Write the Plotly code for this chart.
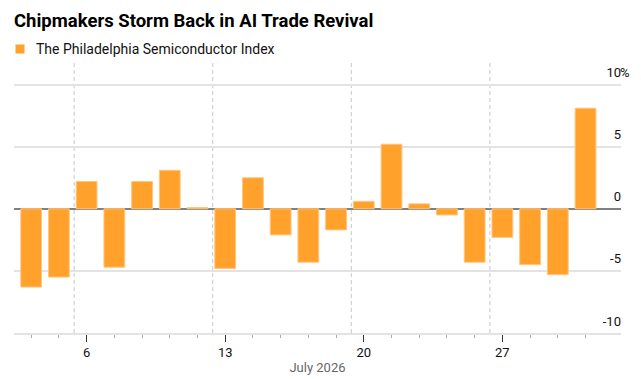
import plotly.graph_objects as go

# ---- data ----
TITLE = "Chipmakers Storm Back in AI Trade Revival"
SERIES_NAME = "The Philadelphia Semiconductor Index"
dates = ["2026-07-01", "2026-07-02",
         "2026-07-06", "2026-07-07", "2026-07-08", "2026-07-09", "2026-07-10",
         "2026-07-13", "2026-07-14", "2026-07-15", "2026-07-16", "2026-07-17",
         "2026-07-20", "2026-07-21", "2026-07-22", "2026-07-23", "2026-07-24",
         "2026-07-27", "2026-07-28", "2026-07-29", "2026-07-30"]
pct_change = [-6.3, -5.5,
              2.2, -4.7, 2.2, 3.1, 0.1,
              -4.8, 2.5, -2.1, -4.3, -1.7,
              0.6, 5.2, 0.4, -0.5, -4.3,
              -2.3, -4.5, -5.3, 8.1]
x_tick_dates = ["2026-07-06", "2026-07-13", "2026-07-20", "2026-07-27"]
x_tick_labels = ["6", "13", "20", "27"]
y_tick_vals = [-10, -5, 0, 5, 10]
y_tick_labels = ["-10", "-5", "0", "5", "10"]
x_axis_title = "July 2026"

# ---- styles ----
ORANGE = "#FFA12B"
FONT = "Roboto"

idx = list(range(len(dates)))
tick_idx = [dates.index(d) for d in x_tick_dates]

fig = go.Figure()
fig.add_trace(go.Bar(
    x=idx, y=pct_change, width=0.75, name=SERIES_NAME,
    marker=dict(color=ORANGE, line=dict(color="#FFC680", width=1)),
    showlegend=False, hovertext=dates,
))

# week separators (dashed) between Friday and Monday
shapes = []
for ti in tick_idx:
    shapes.append(dict(type="line", xref="x", yref="paper", x0=ti - 0.45, x1=ti - 0.45, y0=0, y1=1,
                       line=dict(color="#c8c8c8", width=1, dash="4px,3px"), layer="below"))
# legend swatch
shapes.append(dict(type="rect", xref="paper", yref="paper",
                   x0=(15.5 - 14) / 607, x1=(24.5 - 14) / 607,
                   y0=1 + (63 - 53.5) / 270, y1=1 + (63 - 44.5) / 270,
                   fillcolor=ORANGE, line=dict(width=0)))

annotations = [
    dict(text=SERIES_NAME, xref="paper", yref="paper", x=(33.5 - 14) / 607, y=1 + (63 - 49) / 270,
         xanchor="left", yanchor="middle", showarrow=False, font=dict(family=FONT, size=14, color="#111")),
    dict(text="%", xref="paper", yref="y", x=1, y=10, xanchor="left", yanchor="middle",
         xshift=-3, yshift=12, showarrow=False, font=dict(family=FONT, size=13, color="#111")),
]

fig.update_layout(
    width=641, height=379,
    margin=dict(l=14, r=20, t=63, b=46),
    plot_bgcolor="white", paper_bgcolor="white",
    font=dict(family=FONT, size=13, color="#111"),
    title=dict(text="<b>" + TITLE + "</b>", x=14 / 641, xanchor="left", xref="container",
               y=1 - 21 / 379, yanchor="middle", yref="container",
               font=dict(family=FONT, size=18.5, color="#000")),
    shapes=shapes, annotations=annotations,
    showlegend=False,
    xaxis=dict(
        range=[-0.62, len(dates) + 0.28], showgrid=False, zeroline=False,
        showline=True, linecolor="#e3e3e3", linewidth=1.5,
        tickmode="array", tickvals=tick_idx, ticktext=x_tick_labels,
        ticks="outside", ticklen=7, tickwidth=1, tickcolor="#333",
        tickfont=dict(family=FONT, size=13, color="#111"),
        minor=dict(tickmode="array", tickvals=idx, ticks="outside", ticklen=3, tickwidth=1, tickcolor="#aaa"),
        title=dict(text=x_axis_title, font=dict(family=FONT, size=13, color="#666"), standoff=4),
        automargin=False, fixedrange=True,
    ),
    yaxis=dict(
        range=[-10, 11.74], side="right", ticklabelposition="inside",
        tickmode="array", tickvals=y_tick_vals, ticktext=y_tick_labels,
        showgrid=True, gridcolor="#e3e3e3", gridwidth=1.5,
        zeroline=True, zerolinecolor="#808080", zerolinewidth=2,
        ticks="", ticklabelshift=-12, ticklabelstandoff=-3,
        tickfont=dict(family=FONT, size=13, color="#111"),
        showline=False, automargin=False, fixedrange=True,
    ),
)
fig.write_html("out.html")
